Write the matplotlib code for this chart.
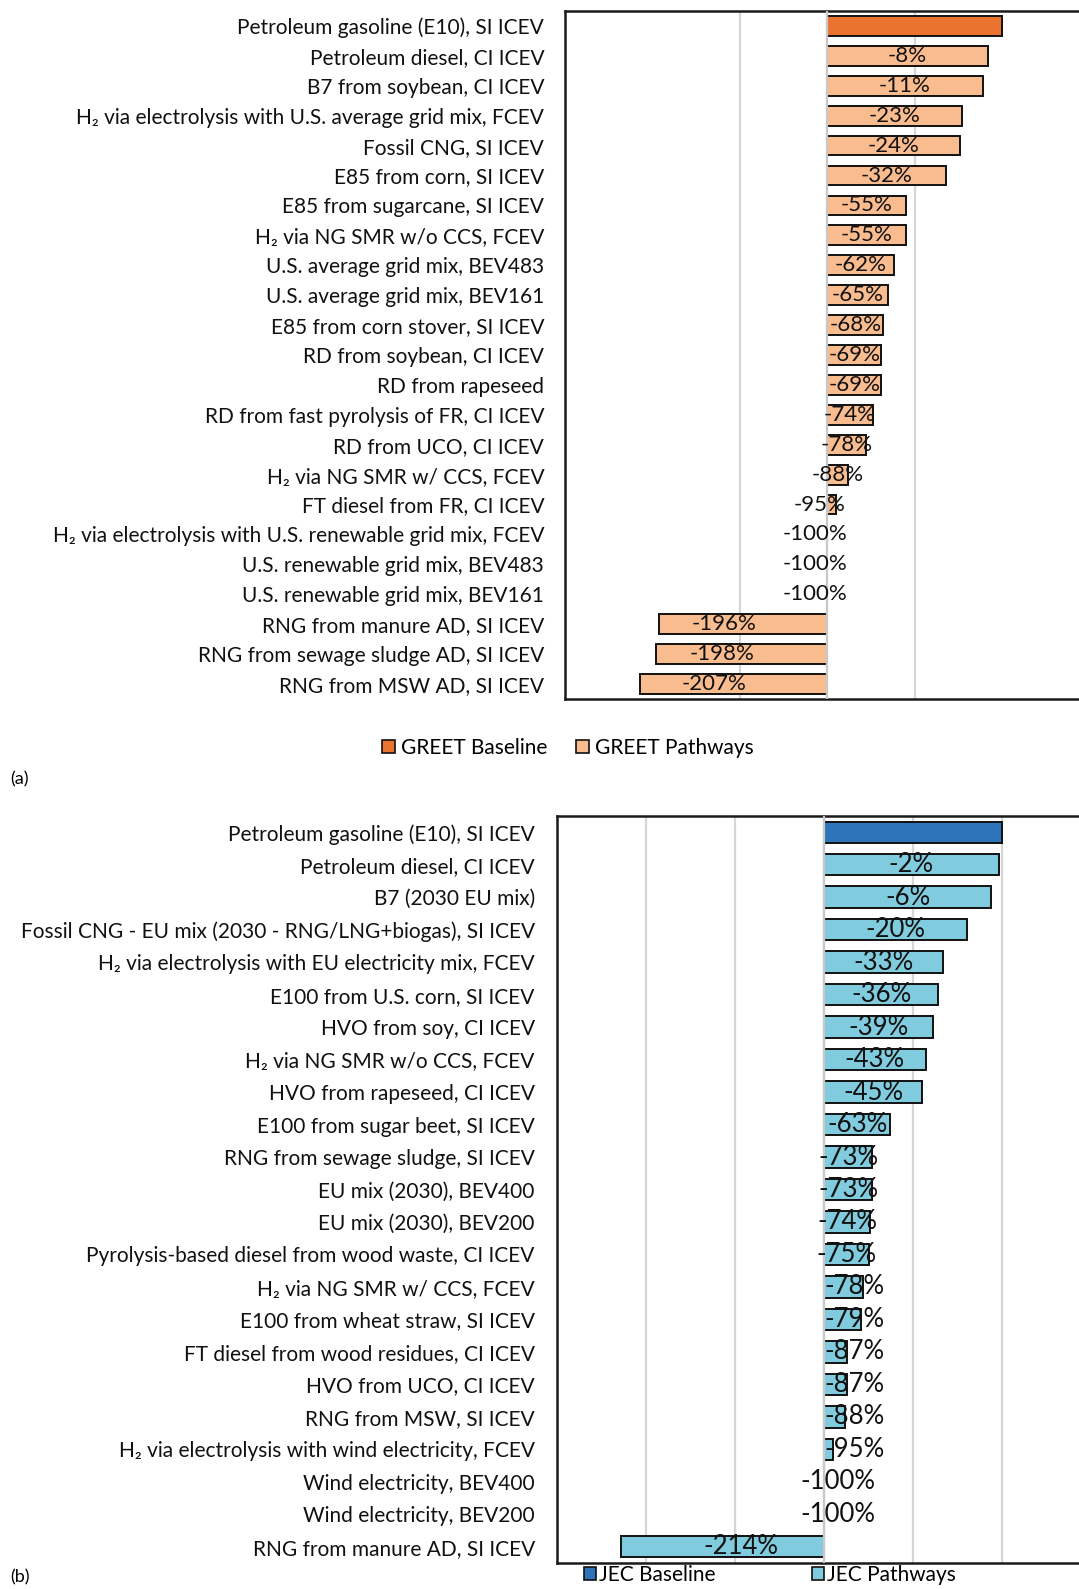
import numpy as np
import matplotlib
matplotlib.use("Agg")
import matplotlib.pyplot as plt
from matplotlib.patches import Patch

plt.rcParams['font.family'] = ['Lato', 'DejaVu Sans']

# GREET pathways, change vs. the E10 gasoline baseline (%)
greet_labels = [
    "Petroleum gasoline (E10), SI ICEV",
    "Petroleum diesel, CI ICEV",
    "B7 from soybean, CI ICEV",
    "H\u2082 via electrolysis with U.S. average grid mix, FCEV",
    "Fossil CNG, SI ICEV",
    "E85 from corn, SI ICEV",
    "E85 from sugarcane, SI ICEV",
    "H\u2082 via NG SMR w/o CCS, FCEV",
    "U.S. average grid mix, BEV483",
    "U.S. average grid mix, BEV161",
    "E85 from corn stover, SI ICEV",
    "RD from soybean, CI ICEV",
    "RD from rapeseed",
    "RD from fast pyrolysis of FR, CI ICEV",
    "RD from UCO, CI ICEV",
    "H\u2082 via NG SMR w/ CCS, FCEV",
    "FT diesel from FR, CI ICEV",
    "H\u2082 via electrolysis with U.S. renewable grid mix, FCEV",
    "U.S. renewable grid mix, BEV483",
    "U.S. renewable grid mix, BEV161",
    "RNG from manure AD, SI ICEV",
    "RNG from sewage sludge AD, SI ICEV",
    "RNG from MSW AD, SI ICEV",
]
greet_pct = [0, -8, -11, -23, -24, -32, -55, -55, -62, -65, -68, -69, -69,
             -74, -78, -88, -95, -100, -100, -100, -196, -198, -207]

# JEC pathways, change vs. the E10 gasoline baseline (%)
jec_labels = [
    "Petroleum gasoline (E10), SI ICEV",
    "Petroleum diesel, CI ICEV",
    "B7 (2030 EU mix)",
    "Fossil CNG - EU mix (2030 - RNG/LNG+biogas), SI ICEV",
    "H\u2082 via electrolysis with EU electricity mix, FCEV",
    "E100 from U.S. corn, SI ICEV",
    "HVO from soy, CI ICEV",
    "H\u2082 via NG SMR w/o CCS, FCEV",
    "HVO from rapeseed, CI ICEV",
    "E100 from sugar beet, SI ICEV",
    "RNG from sewage sludge, SI ICEV",
    "EU mix (2030), BEV400",
    "EU mix (2030), BEV200",
    "Pyrolysis-based diesel from wood waste, CI ICEV",
    "H\u2082 via NG SMR w/ CCS, FCEV",
    "E100 from wheat straw, SI ICEV",
    "FT diesel from wood residues, CI ICEV",
    "HVO from UCO, CI ICEV",
    "RNG from MSW, SI ICEV",
    "H\u2082 via electrolysis with wind electricity, FCEV",
    "Wind electricity, BEV400",
    "Wind electricity, BEV200",
    "RNG from manure AD, SI ICEV",
]
jec_pct = [0, -2, -6, -20, -33, -36, -39, -43, -45, -63, -73, -73, -74, -75,
           -78, -79, -87, -87, -88, -95, -100, -100, -214]

BASE = 100.0  # baseline indexed to 100

W, H = 1079, 1589
fig = plt.figure(figsize=(W / 100, H / 100), dpi=100)


def greet_label_pos(v):
    if v >= 10:
        return v / 2, 'center'
    if v >= 0:
        return v / 2 - 7, 'center'
    return v / 2 - 11, 'center'


def jec_label_pos(v):
    if v >= 24:
        return v / 2, 'center'
    if v > 0:
        return 0, 'left'
    if v == 0:
        return 8, 'center'
    return v / 2 + 10, 'center'


def draw_panel(rect, labels, pct, c_base, c_path, grid_ticks, lab_size,
               label_pos, tick_pad):
    ax = fig.add_axes(rect)
    n = len(labels)
    y = np.arange(n)
    vals = BASE * (1 + np.array(pct) / 100.0)
    colors = [c_base] + [c_path] * (n - 1)
    ax.barh(y, vals, height=0.66, color=colors, edgecolor='#111111',
            linewidth=1.4, zorder=2)
    ax.axvline(0, color='#c8c8c8', lw=1.6, zorder=3)
    for yi, v, p in zip(y[1:], vals[1:], pct[1:]):
        x, ha = label_pos(v)
        ax.text(x, yi, f"{p}%", ha=ha, va='center', fontsize=lab_size,
                color='#111111', zorder=4)
    ax.set_xlim(-150, 160)
    ax.set_ylim(n - 0.5, -0.5)
    ax.set_xticks(grid_ticks)
    ax.set_xticklabels([])
    ax.tick_params(axis='x', length=0)
    ax.grid(axis='x', color='#d6d6d6', lw=1.6, zorder=0)
    ax.set_axisbelow(True)
    ax.set_yticks(y)
    ax.set_yticklabels(labels, fontsize=15, color='#111111')
    ax.tick_params(axis='y', length=0, pad=tick_pad)
    for s in ax.spines.values():
        s.set_linewidth(1.8)
        s.set_color('#1a1a1a')
    return ax


# panel (a): GREET
draw_panel([565 / W, 1 - 699 / H, 542 / W, 688 / H],
           greet_labels, greet_pct, '#EB7330', '#F9BC8F',
           [-150, -50, 50, 150], 16, greet_label_pos, 15)

# panel (b): JEC
draw_panel([557 / W, 1 - 1563 / H, 552 / W, 747 / H],
           jec_labels, jec_pct, '#2E74BA', '#80CBDD',
           [-150, -100, -50, 0, 50, 100, 150], 18.5, jec_label_pos, 16)

fig.legend([Patch(facecolor='#EB7330', edgecolor='#111111', lw=1.2),
            Patch(facecolor='#F9BC8F', edgecolor='#111111', lw=1.2)],
           ["GREET Baseline", "GREET Pathways"], loc='center',
           bbox_to_anchor=(568 / W, 1 - 748 / H), ncol=2, frameon=False,
           fontsize=15, handlelength=0.6, handleheight=0.6,
           handletextpad=0.3, columnspacing=1.4)
fig.legend([Patch(facecolor='#2E74BA', edgecolor='#111111', lw=1.2),
            Patch(facecolor='#80CBDD', edgecolor='#111111', lw=1.2)],
           ["JEC Baseline", "JEC Pathways"], loc='center',
           bbox_to_anchor=(770 / W, 1 - 1575 / H), ncol=2, frameon=False,
           fontsize=15, handlelength=0.6, handleheight=0.6,
           handletextpad=0.15, columnspacing=4.6, borderpad=0)

fig.text(10 / W, 1 - 779 / H, "(a)", fontsize=13, va='center', ha='left')
fig.text(10 / W, 1 - 1577 / H, "(b)", fontsize=13, va='center', ha='left')

fig.savefig("out.png", dpi=100)
